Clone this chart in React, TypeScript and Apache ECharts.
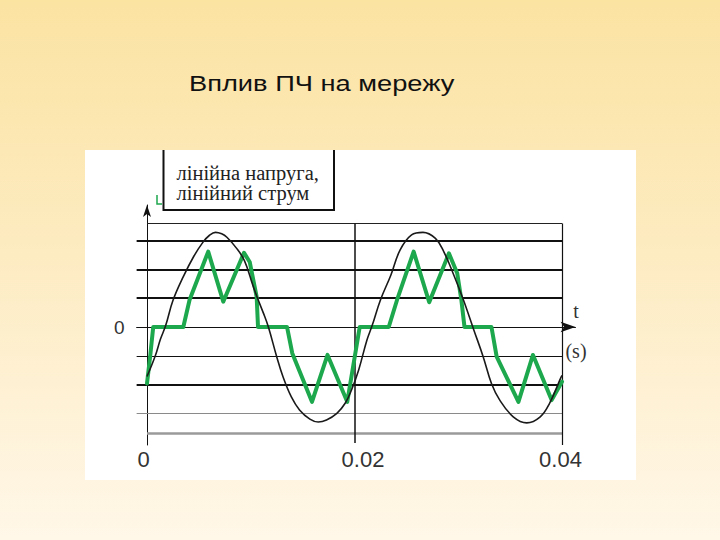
import React, { useEffect, useRef } from "react";
import * as echarts from "echarts";

// ---- data ----
const voltageT = [
  0, 0.0008, 0.0013, 0.0018, 0.0025, 0.0035, 0.0045, 0.0054, 0.006, 0.0066,
  0.0072, 0.0077, 0.0086, 0.0094, 0.0102, 0.0106, 0.0112, 0.0117, 0.0125,
  0.0131, 0.0139, 0.0147, 0.0157, 0.0165, 0.0173, 0.0183, 0.0191, 0.0197,
  0.0204, 0.0212, 0.0217, 0.0225, 0.0235, 0.0244, 0.0255, 0.0266, 0.0278,
  0.0286, 0.0295, 0.0305, 0.0315, 0.0324, 0.0332, 0.034, 0.0353, 0.0366,
  0.0379, 0.0388, 0.0399, 0.04,
];
const voltageV = [
  -1.72, -1.0, -0.42, 0.05, 0.92, 1.75, 2.45, 2.95, 3.18, 3.29,
  3.24, 3.12, 2.75, 2.3, 1.45, 1.05, 0.5, 0.0, -1.03,
  -1.72, -2.42, -2.88, -3.2, -3.3, -3.23, -3.0, -2.65, -2.2,
  -1.49, -0.45, 0.05, 0.94, 1.8, 2.68, 3.2, 3.29, 3.08,
  2.62, 1.87, 0.94, -0.1, -1.03, -1.96, -2.54, -3.12, -3.33,
  -3.12, -2.65, -1.75, -1.68,
];
const currentT = [
  0, 0.0003, 0.0006, 0.0035, 0.0041, 0.0059, 0.00735, 0.00935, 0.0099,
  0.01057, 0.0107, 0.0135, 0.014, 0.0159, 0.0174, 0.0193, 0.0205, 0.0233,
  0.0241, 0.0257, 0.0272, 0.0291, 0.0299, 0.0303, 0.0306, 0.0332, 0.0337,
  0.0358, 0.0372, 0.039, 0.0399, 0.04,
];
const currentV = [
  -1.96, -1.03, 0, 0, 0.94, 2.62, 0.88, 2.58, 2.26,
  1.05, 0, 0, -0.91, -2.6, -0.97, -2.6, 0, 0,
  0.94, 2.62, 0.86, 2.56, 1.87, 0.94, 0, 0, -1.03,
  -2.6, -0.97, -2.54, -1.96, -1.9,
];
const xTicks = [0, 0.02, 0.04];
const xTickText = ["0", "0.02", "0.04"];
const yTicks = [0];
const heavyLevels = [3, 2, 1, -2];
const thinLevels = [-1];
const grayLevels = [-3];
const frameTop = 3.6;
const frameBottom = -3.68;
const periodMarks = [0.02, 0.04];
const titleText = "Вплив ПЧ на мережу";
const legendLines = ["лінійна напруга,", "лінійний струм"];
const axisNameT = "t";
const axisNameUnit = "(s)";

const X_MIN = -0.001;
const X_MAX = 0.0413;
const Y_MIN = -4.1;
const Y_MAX = 4.24;

export default function App() {
  const ref = useRef<HTMLDivElement>(null);

  useEffect(() => {
    if (!ref.current) return;
    const chart = echarts.init(ref.current, undefined, { renderer: "svg" });

    const voltage = voltageT.map((t, i) => [t, voltageV[i]]);
    const current = currentT.map((t, i) => [t, currentV[i]]);

    const seg = (x1: number, y1: number, x2: number, y2: number, color: string, width: number) => [
      { coord: [x1, y1], lineStyle: { color, width, type: "solid" } },
      { coord: [x2, y2] },
    ];

    const markData: any[] = [
      ...heavyLevels.map((v) => seg(X_MIN, v, 0.04, v, "#111", 2.2)),
      ...thinLevels.map((v) => seg(X_MIN, v, 0.04, v, "#111", 1.1)),
      ...grayLevels.map((v) => seg(X_MIN, v, 0.04, v, "#8a8a8a", 1.2)),
      seg(0, frameTop, 0.04, frameTop, "#222", 1),
      seg(0, frameBottom, 0.04, frameBottom, "#9a9a9a", 2.6),
      seg(periodMarks[0], frameTop, periodMarks[0], -4.03, "#111", 1.5),
      seg(periodMarks[1], frameTop, periodMarks[1], Y_MIN, "#111", 1.2),
    ];

    const labelFont = { fontFamily: "'Liberation Sans', Arial, sans-serif", fontSize: 22, color: "#333" };

    chart.setOption({
      animation: false,
      backgroundColor: "transparent",
      grid: {
        left: 136.625,
        top: 205,
        width: 438.875,
        height: 240,
        containLabel: false,
        outerBoundsMode: "none",
      },
      xAxis: [
        {
          type: "value",
          position: "top",
          min: X_MIN,
          max: X_MAX,
          axisLine: {
            show: true,
            onZero: true,
            symbol: ["none", "arrow"],
            symbolSize: [8, 15],
            lineStyle: { color: "#111", width: 1 },
          },
          axisTick: { show: false },
          axisLabel: { show: false },
          splitLine: { show: false },
        },
        {
          type: "value",
          position: "bottom",
          min: X_MIN,
          max: X_MAX,
          axisLine: { show: false, onZero: false },
          axisTick: { show: false },
          splitLine: { show: false },
          axisLabel: {
            show: true,
            customValues: xTicks,
            margin: 3,
            ...labelFont,
            formatter: (v: number) => {
              const i = xTicks.indexOf(v);
              return i >= 0 ? `{l${i}|${xTickText[i]}}` : "";
            },
            rich: {
              l0: { ...labelFont, padding: [0, 7, 0, 0] },
              l1: { ...labelFont, padding: [0, 0, 0, 17] },
              l2: { ...labelFont, padding: [0, 3, 0, 0] },
            },
          },
        },
      ],
      yAxis: {
        type: "value",
        min: Y_MIN,
        max: Y_MAX,
        axisLine: {
          show: true,
          onZero: true,
          onZeroAxisIndex: 0,
          symbol: ["none", "arrow"],
          symbolSize: [6, 12],
          lineStyle: { color: "#111", width: 1 },
        },
        axisTick: { show: false },
        splitLine: { show: false },
        axisLabel: {
          show: true,
          customValues: yTicks,
          margin: 12,
          fontFamily: "'Liberation Sans', Arial, sans-serif",
          fontSize: 19,
          color: "#333",
        },
      },
      graphic: [
        {
          type: "rect",
          z: -5,
          silent: true,
          shape: { x: 85, y: 150, width: 551, height: 330 },
          style: { fill: "#ffffff" },
        },
        {
          type: "text",
          x: 189,
          y: 83,
          scaleX: 1.24,
          silent: true,
          style: {
            text: titleText,
            x: 0,
            y: 0,
            fill: "#111",
            font: "22px 'Liberation Sans', Arial, sans-serif",
            align: "left",
            verticalAlign: "middle",
          },
        },
        {
          type: "polyline",
          silent: true,
          z: 10,
          shape: { points: [[163.5, 150], [163.5, 210], [334, 210], [334, 150]] },
          style: { stroke: "#111", lineWidth: 2, fill: "none" },
        },
        {
          type: "text",
          silent: true,
          z: 10,
          x: 176.5,
          y: 182.9,
          style: {
            text: legendLines.join("\n"),
            fill: "#222",
            font: "20.5px 'Liberation Serif', 'Times New Roman', serif",
            lineHeight: 19.7,
            align: "left",
            verticalAlign: "middle",
          },
        },
        {
          type: "polyline",
          silent: true,
          z: 10,
          shape: { points: [[157, 195], [157, 204], [162, 204]] },
          style: { stroke: "#1ea84e", lineWidth: 1.5, fill: "none" },
        },
        {
          type: "text",
          silent: true,
          x: 576,
          y: 311,
          style: {
            text: axisNameT,
            fill: "#333",
            font: "20px 'Liberation Serif', 'Times New Roman', serif",
            align: "center",
            verticalAlign: "middle",
          },
        },
        {
          type: "text",
          silent: true,
          x: 576,
          y: 351,
          style: {
            text: axisNameUnit,
            fill: "#333",
            font: "20px 'Liberation Serif', 'Times New Roman', serif",
            align: "center",
            verticalAlign: "middle",
          },
        },
      ],
      series: [
        {
          name: "лінійний струм",
          type: "line",
          xAxisIndex: 0,
          yAxisIndex: 0,
          data: current,
          showSymbol: false,
          symbol: "none",
          smooth: false,
          z: 3,
          lineStyle: { color: "#1ea84e", width: 4, join: "round", cap: "round" },
          markLine: {
            silent: true,
            z: 1,
            symbol: ["none", "none"],
            label: { show: false },
            animation: false,
            data: markData,
          },
        },
        {
          name: "лінійна напруга",
          type: "line",
          xAxisIndex: 0,
          yAxisIndex: 0,
          data: voltage,
          showSymbol: false,
          symbol: "none",
          smooth: 0.4,
          z: 4,
          lineStyle: { color: "#1a1a1a", width: 1.6 },
        },
      ],
    });

    return () => chart.dispose();
  }, []);

  return (
    <div
      style={{
        position: "absolute",
        left: 0,
        top: 0,
        width: 720,
        height: 540,
        background: "linear-gradient(to bottom, #FBE3A2 0%, #FDEBC0 45%, #FFF7E8 100%)",
      }}
    >
      <div ref={ref} style={{ width: 720, height: 540 }} />
    </div>
  );
}
